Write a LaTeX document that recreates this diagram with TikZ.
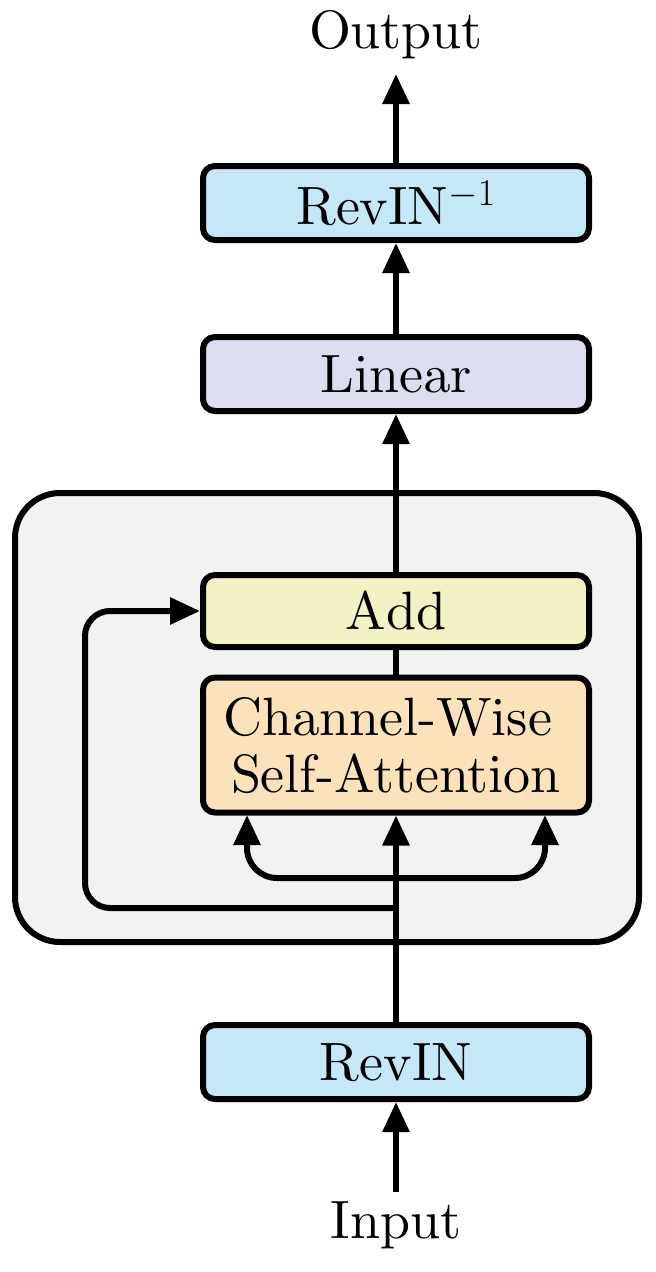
\RequirePackage{fix-cm}
\documentclass[tikz,border=0pt]{standalone}
\usetikzlibrary{arrows.meta}
\font\cmbig=cmr10 at 54pt
\definecolor{revinc}{RGB}{197,232,246}
\definecolor{linc}{RGB}{220,222,240}
\definecolor{addc}{RGB}{243,242,196}
\definecolor{attc}{RGB}{251,226,186}
\definecolor{contc}{RGB}{242,242,242}
\tikzset{
  blk/.style={draw=black, line width=6pt, rounded corners=12pt, minimum width=386pt, inner sep=0pt, align=center},
  conn/.style={line width=6pt, -{Triangle[length=30pt,width=26pt]}},
  plain/.style={line width=6pt},
}
\begin{document}
\begin{tikzpicture}[x=1pt,y=-1pt,font=\fontencoding{OT1}\fontfamily{cmr}\fontsize{54}{57}\selectfont\cmbig]
\useasboundingbox (0,0) rectangle (656,1272);
\draw[line width=6pt, fill=contc, rounded corners=45pt] (15,493) rectangle (639,942);
\node[blk, fill=revinc, minimum height=74pt] (revinv) at (396,203) {RevIN$^{-1}$};
\node[blk, fill=linc, minimum height=74pt] (lin) at (396,374) {Linear};
\node[blk, fill=addc, minimum height=72pt] (add) at (396,611) {Add};
\node[blk, fill=attc, minimum height=135pt] (att) at (396,745) {Channel-Wise\kern16pt\\Self-Attention};
\node[blk, fill=revinc, minimum height=74pt] (revin) at (396,1062) {RevIN};
\node (out) at (396,35) {Output};
\node (in) at (396,1225) {Input};
\coordinate (instart) at (396,1192);
\coordinate (outend) at (396,74);
\coordinate (br) at (396,878);
\coordinate (sk) at (396,908);
\coordinate (al) at (247,815);
\coordinate (ar) at (545,815);
\draw[conn] (instart) -- (revin.south);
\draw[conn] (revin.north) -- (att.south);
\draw[plain] (att.north) -- (add.south);
\draw[conn] (add.north) -- (lin.south);
\draw[conn] (lin.north) -- (revinv.south);
\draw[conn] (revinv.north) -- (outend);
\draw[conn, rounded corners=30pt] (br) -| (al);
\draw[conn, rounded corners=30pt] (br) -| (ar);
\draw[conn, rounded corners=25pt] (sk) -- (85,908) -- (85,611) -- (add.west);
\end{tikzpicture}
\end{document}
